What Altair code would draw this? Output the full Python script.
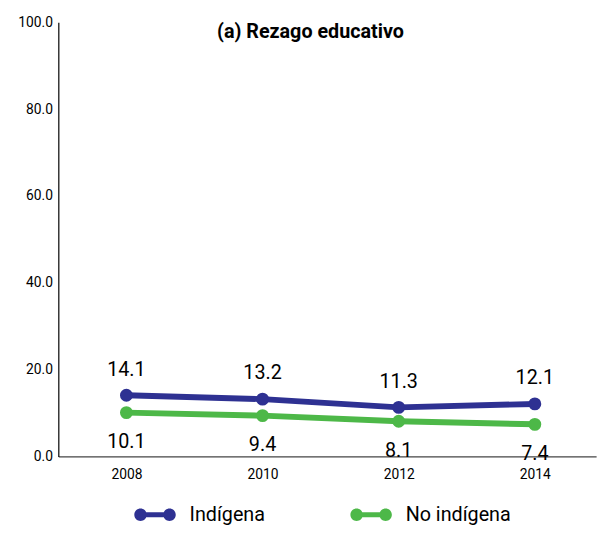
import altair as alt
import pandas as pd

years = [2008, 2010, 2012, 2014]
indigena = [14.1, 13.2, 11.3, 12.1]
no_indigena = [10.1, 9.4, 8.1, 7.4]
series = ["Indígena", "No indígena"]
colors = ["#2E3192", "#4DB848"]
y_ticks = [0, 20, 40, 60, 80, 100]
title_text = "(a) Rezago educativo"

FONT = "Roboto, Liberation Sans, sans-serif"

df = pd.DataFrame({
    "year": years * 2,
    "value": indigena + no_indigena,
    "serie": [series[0]] * len(years) + [series[1]] * len(years),
})
df["label"] = df["value"].map(lambda v: f"{v:.1f}")

x = alt.X("year:Q",
          scale=alt.Scale(domain=[2007, 2014.9], nice=False, zero=False),
          axis=alt.Axis(values=years, format="d", title=None, ticks=False, grid=False,
                        labelFontSize=14, labelPadding=11, labelFont=FONT,
                        labelColor="black", domainColor="#444444", domainWidth=1.2))
y = alt.Y("value:Q",
          scale=alt.Scale(domain=[0, 100], nice=False),
          axis=alt.Axis(values=y_ticks, format=".1f", title=None, ticks=False, grid=False,
                        labelFontSize=14, labelPadding=6, labelFont=FONT,
                        labelColor="black", domainColor="black", domainWidth=1.2))
cscale = alt.Scale(domain=series, range=colors)

SYMBOL = ("M-1,0A0.3,0.3,0,1,1,-0.4,0A0.3,0.3,0,1,1,-1,0Z "
          "M0.4,0A0.3,0.3,0,1,1,1,0A0.3,0.3,0,1,1,0.4,0Z "
          "M-0.7,-0.12H0.7V0.12H-0.7Z")

legend = alt.Legend(title=None, orient="none", direction="horizontal",
                    legendX=77, legendY=478,
                    symbolType=SYMBOL, symbolSize=1764,
                    symbolStrokeWidth=0, symbolOpacity=1,
                    labelFontSize=20, labelFont=FONT, labelColor="black",
                    labelOffset=14, columnPadding=85, labelLimit=300)

base = alt.Chart(df)

lines = base.mark_line(strokeWidth=6).encode(
    x=x, y=y, color=alt.Color("serie:N", scale=cscale, legend=legend))

points = base.mark_point(filled=True, size=170, opacity=1).encode(
    x=x, y=y, color=alt.Color("serie:N", scale=cscale, legend=legend))

labels_top = base.transform_filter(alt.datum.serie == series[0]).mark_text(
    dy=-26, fontSize=20, font=FONT, color="black").encode(x=x, y=y, text="label:N")
labels_bot = base.transform_filter(alt.datum.serie == series[1]).mark_text(
    dy=30, fontSize=20, font=FONT, color="black").encode(x=x, y=y, text="label:N")

chart = alt.layer(lines, points, labels_top, labels_bot).properties(
    width=545, height=440,
    title=alt.Title(title_text, fontSize=20, fontWeight="bold", font=FONT,
                    anchor="middle", dx=-17, dy=27, offset=0, color="black"),
    autosize=alt.AutoSizeParams(type="none"),
    padding={"left": 51, "top": 11, "right": 8, "bottom": 67},
    background="white",
).configure_view(stroke=None)

chart.save("out.html", embed_options={"renderer": "svg", "actions": False})
